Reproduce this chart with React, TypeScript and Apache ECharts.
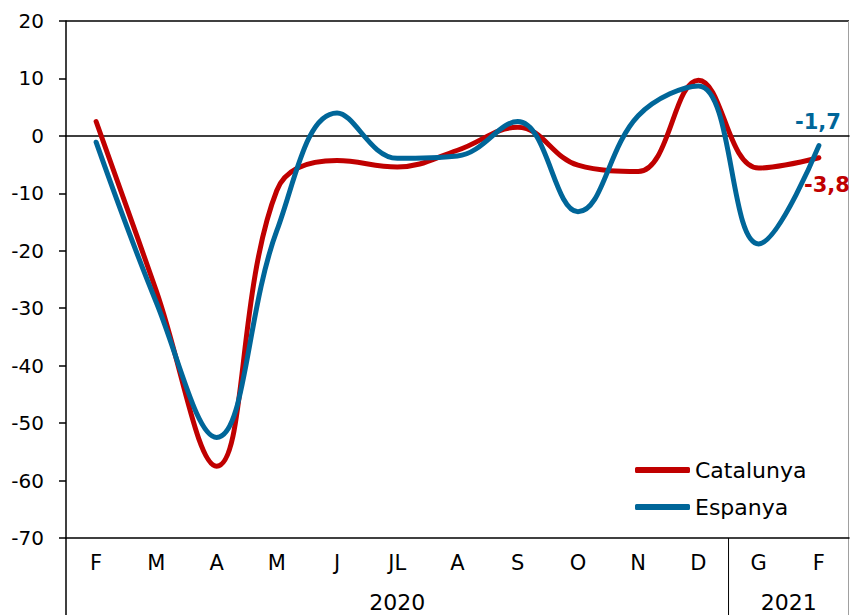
import React, { useEffect, useRef } from 'react';
import * as echarts from 'echarts';

const months = ['F', 'M', 'A', 'M', 'J', 'JL', 'A', 'S', 'O', 'N', 'D', 'G', 'F'];
const years = ['2020', '2021'];
const yearStart = [0, 11];
const yearEnd = [10, 12];
const catalunya = [2.5, -27, -57.5, -9.5, -4.3, -5.4, -2.5, 1.5, -5.1, -6.2, 9.7, -5.6, -3.8];
const espanya = [-1.1, -29, -52.5, -16.5, 4, -3.9, -3.5, 2.5, -13.2, 3.5, 8.7, -18.8, -1.7];
const yMin = -70;
const yMax = 20;
const yStep = 10;

const RED = '#C00000';
const BLUE = '#006699';
const FONT = '"DejaVu Sans", "Liberation Sans", Arial, sans-serif';

const fmt = (v: number) => String(v).replace('.', ',');

export default function App() {
  const ref = useRef<HTMLDivElement>(null);
  useEffect(() => {
    const el = ref.current!;
    const chart = echarts.init(el, null, { renderer: 'svg' });
    const last = months.length - 1;
    const option: any = {
      animation: false,
      textStyle: { fontFamily: FONT },
      grid: { left: 66, right: 1, top: 21, bottom: 77, containLabel: false },
      legend: {
        orient: 'vertical',
        left: 630,
        top: 454,
        itemWidth: 55,
        itemHeight: 6,
        itemGap: 15,
        icon: 'roundRect',
        textStyle: { fontSize: 22, color: '#000', fontFamily: FONT },
        data: ['Catalunya', 'Espanya'],
      },
      xAxis: [
        {
          type: 'category',
          data: months,
          boundaryGap: true,
          position: 'bottom',
          axisLine: { onZero: false, lineStyle: { color: '#000', width: 1.5 } },
          axisTick: { show: false },
          axisLabel: { fontSize: 21, color: '#000', margin: 14, fontFamily: FONT, interval: 0 },
          splitLine: { show: false },
        },
        {
          type: 'category',
          data: months,
          boundaryGap: true,
          position: 'top',
          axisLine: { onZero: true, lineStyle: { color: '#000', width: 1.5 } },
          axisTick: { show: false },
          axisLabel: { show: false },
          splitLine: { show: false },
        },
      ],
      yAxis: {
        type: 'value',
        min: yMin,
        max: yMax,
        interval: yStep,
        axisLine: { show: true, lineStyle: { color: '#000', width: 1.5 } },
        axisTick: { show: true, length: 7, lineStyle: { color: '#000', width: 1.5 } },
        axisLabel: { fontSize: 20, color: '#000', margin: 22, fontFamily: FONT },
        splitLine: { show: false },
      },
      series: [
        {
          name: 'Catalunya',
          type: 'line',
          data: catalunya,
          smooth: 0.4,
          showSymbol: false,
          symbol: 'none',
          color: RED,
          lineStyle: { color: RED, width: 5, cap: 'round' },
          markPoint: {
            symbol: 'circle',
            symbolSize: 1,
            itemStyle: { color: 'rgba(0,0,0,0)' },
            label: {
              show: true,
              position: 'bottom',
              distance: 16,
              offset: [8, 0],
              formatter: fmt(catalunya[last]),
              color: RED,
              fontSize: 21,
              fontWeight: 'bold',
              fontFamily: FONT,
            },
            data: [{ coord: [last, catalunya[last]] }],
          },
        },
        {
          name: 'Espanya',
          type: 'line',
          data: espanya,
          smooth: 0.4,
          showSymbol: false,
          symbol: 'none',
          color: BLUE,
          lineStyle: { color: BLUE, width: 5, cap: 'round' },
          markPoint: {
            symbol: 'circle',
            symbolSize: 1,
            itemStyle: { color: 'rgba(0,0,0,0)' },
            label: {
              show: true,
              position: 'top',
              distance: 13,
              offset: [-1, 0],
              formatter: fmt(espanya[last]),
              color: BLUE,
              fontSize: 21,
              fontWeight: 'bold',
              fontFamily: FONT,
            },
            data: [{ coord: [last, espanya[last]] }],
          },
        },
      ],
    };
    chart.setOption(option);

    const px = (i: number) => chart.convertToPixel({ xAxisIndex: 0 }, i) as number;
    const py = (v: number) => chart.convertToPixel({ yAxisIndex: 0 }, v) as number;
    const bw = px(1) - px(0);
    const x0 = px(0) - bw / 2;
    const x1 = px(last) + bw / 2;
    const yTop = py(yMax);
    const yBot = py(yMin);
    const H = el.clientHeight;
    const graphics: any[] = [];
    graphics.push({
      type: 'line',
      shape: { x1: x0, y1: yTop, x2: x1, y2: yTop },
      style: { stroke: '#000', lineWidth: 1.5 },
    });
    graphics.push({
      type: 'line',
      shape: { x1: x1 - 0.5, y1: yTop, x2: x1 - 0.5, y2: H },
      style: { stroke: '#a0a0a0', lineWidth: 1 },
    });
    graphics.push({
      type: 'line',
      shape: { x1: x0, y1: yBot, x2: x0, y2: H },
      style: { stroke: '#000', lineWidth: 1.5 },
    });
    years.forEach((y, k) => {
      const a = px(yearStart[k]);
      const b = px(yearEnd[k]);
      if (k > 0) {
        const sx = (px(yearStart[k] - 1) + a) / 2;
        graphics.push({
          type: 'line',
          shape: { x1: sx, y1: yBot, x2: sx, y2: H },
          style: { stroke: '#000', lineWidth: 1 },
        });
      }
      graphics.push({
        type: 'text',
        x: (a + b) / 2,
        y: yBot + 64,
        style: {
          text: y,
          fill: '#000',
          font: `22px ${FONT}`,
          align: 'center',
          verticalAlign: 'middle',
        },
      });
    });
    chart.setOption({ graphic: graphics });

    return () => chart.dispose();
  }, []);
  return (
    <div
      ref={ref}
      style={{ position: 'absolute', left: 0, top: 0, width: 850, height: 615, background: '#fff' }}
    />
  );
}
